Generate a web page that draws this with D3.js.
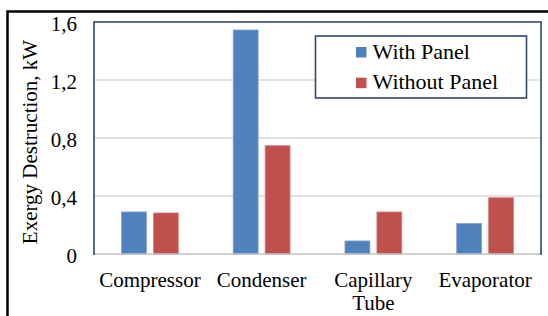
<!DOCTYPE html>
<html>
<head>
<meta charset="utf-8">
<script src="https://cdn.jsdelivr.net/npm/d3@7"></script>
<style>
body { margin: 0; background: #fff; }
text { font-family: "Liberation Serif", "Times New Roman", serif; fill: #000; }
</style>
</head>
<body>
<script>
const width = 548
const height = 316

const categories = ["Compressor", "Condenser", "Capillary Tube", "Evaporator"]
const seriesNames = ["With Panel", "Without Panel"]
const withPanel = [0.29, 1.545, 0.09, 0.21]
const withoutPanel = [0.283, 0.747, 0.29, 0.388]
const yTicks = [0, 0.4, 0.8, 1.2, 1.6]
const colors = ["#4f81bd", "#c0504d"]

const plot = {left: 94, right: 541, top: 22, bottom: 254}

const svg = d3.select("body").append("svg")
    .attr("width", width)
    .attr("height", height)

// outer frame (right and bottom edges cut off)
svg.append("rect")
    .attr("x", 7.5).attr("y", 11.5)
    .attr("width", 560).attr("height", 320)
    .attr("fill", "none")
    .attr("stroke", "#000")
    .attr("stroke-width", 2.5)

const x0 = d3.scaleBand().domain(categories).range([plot.left, plot.right])
const x1 = d3.scaleBand().domain(seriesNames).range([0, x0.bandwidth()])
    .paddingInner(0.22).paddingOuter(0.86)
const y = d3.scaleLinear().domain([0, 1.6]).range([plot.bottom, plot.top])

// gridlines
svg.append("g").selectAll("line")
    .data(yTicks.slice(1))
    .enter().append("line")
    .attr("x1", plot.left).attr("x2", plot.right)
    .attr("y1", d => y(d)).attr("y2", d => y(d))
    .attr("stroke", "#d9d9d9").attr("stroke-width", 1.3)

// bars
const rows = categories.map((c, i) => ({cat: c, values: [withPanel[i], withoutPanel[i]]}))
const groups = svg.append("g").selectAll("g")
    .data(rows)
    .enter().append("g")
    .attr("transform", d => `translate(${x0(d.cat)},0)`)
groups.selectAll("rect")
    .data(d => d.values.map((v, j) => ({name: seriesNames[j], v, j})))
    .enter().append("rect")
    .attr("x", d => x1(d.name))
    .attr("width", x1.bandwidth())
    .attr("y", d => y(d.v))
    .attr("height", d => plot.bottom - y(d.v))
    .attr("fill", d => colors[d.j])
    .attr("stroke", d => d.j === 0 ? "#7fa3d3" : "#d98280")
    .attr("stroke-width", 0.8)

// x axis line
svg.append("line")
    .attr("x1", plot.left).attr("x2", plot.right)
    .attr("y1", plot.bottom).attr("y2", plot.bottom)
    .attr("stroke", "#bfbfbf").attr("stroke-width", 1.3)

// plot border
svg.append("path")
    .attr("d", `M${plot.left},${plot.bottom + 1} V${plot.top} H${plot.right} V${plot.bottom + 1}`)
    .attr("fill", "none")
    .attr("stroke", "#2c4770")
    .attr("stroke-width", 1.6)

// y tick labels
svg.append("g").selectAll("text")
    .data(yTicks)
    .enter().append("text")
    .attr("x", 77)
    .attr("y", d => y(d) + 2)
    .attr("text-anchor", "end")
    .attr("dominant-baseline", "central")
    .style("font-size", "21px")
    .text(d => d3.format(".1f")(d).replace(".", ",").replace(/^0,0$/, "0"))

// category labels
const catLabels = svg.append("g").selectAll("text")
    .data(categories)
    .enter().append("text")
    .attr("x", d => x0(d) + x0.bandwidth() / 2)
    .attr("y", 287)
    .attr("text-anchor", "middle")
    .style("font-size", "21px")
catLabels.each(function(d) {
    const words = d === "Capillary Tube" ? ["Capillary", "Tube"] : [d]
    d3.select(this).selectAll("tspan")
        .data(words)
        .enter().append("tspan")
        .attr("x", x0(d) + x0.bandwidth() / 2)
        .attr("dy", (w, k) => k === 0 ? 0 : 23)
        .text(w => w)
})

// y axis title
svg.append("text")
    .attr("transform", `translate(37,${(plot.top + plot.bottom) / 2 + 4}) rotate(-90)`)
    .attr("text-anchor", "middle")
    .style("font-size", "21px")
    .text("Exergy Destruction, kW")

// legend
svg.append("rect")
    .attr("x", 315.5).attr("y", 36)
    .attr("width", 211).attr("height", 62)
    .attr("fill", "#fff")
    .attr("stroke", "#2c4770")
    .attr("stroke-width", 1.6)
const items = svg.append("g").selectAll("g")
    .data(seriesNames)
    .enter().append("g")
    .attr("transform", (d, i) => `translate(356,${47 + i * 30.7})`)
items.append("rect")
    .attr("width", 10.5).attr("height", 10.5)
    .attr("fill", (d, i) => colors[i])
items.append("text")
    .attr("x", 16.5).attr("y", 11.5)
    .style("font-size", "22px")
    .text(d => d)
</script>
</body>
</html>
